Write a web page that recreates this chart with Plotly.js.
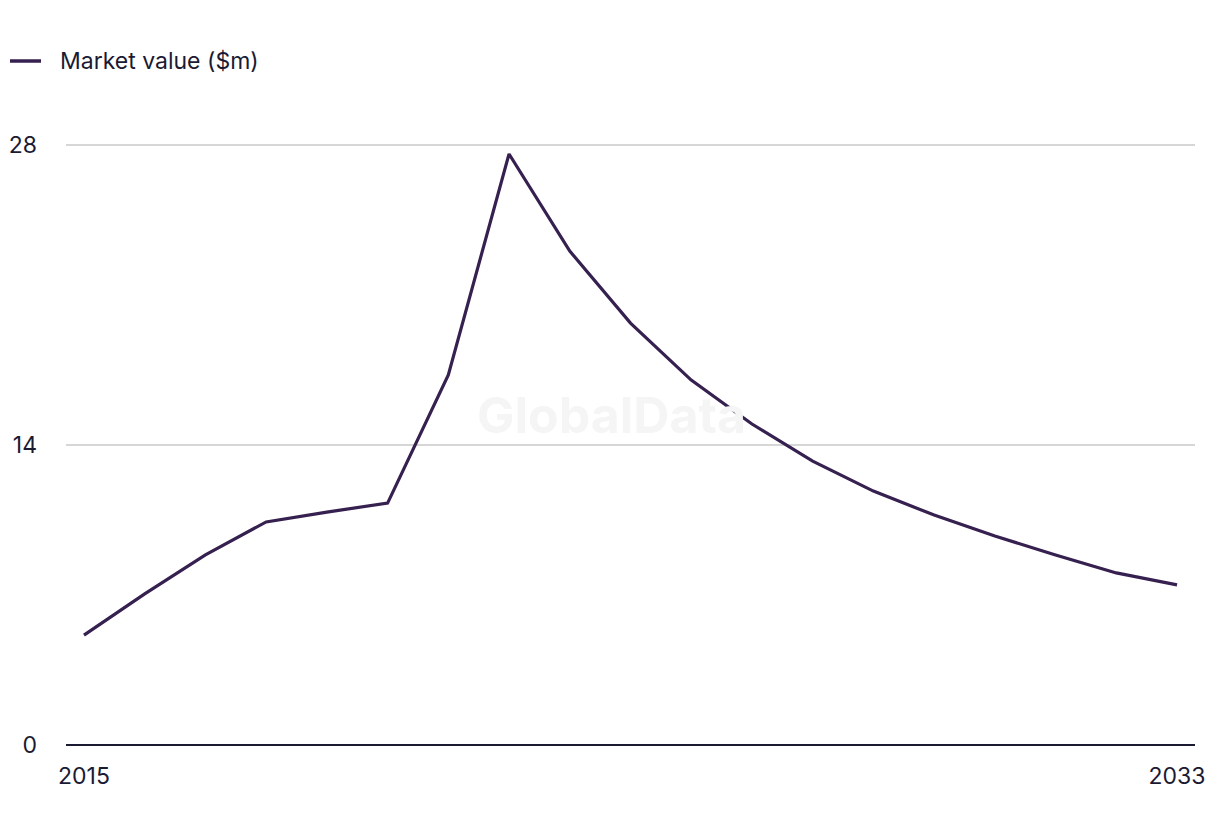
<!DOCTYPE html>
<html>
<head>
<meta charset="utf-8">
<script src="https://cdn.plot.ly/plotly-3.0.1.min.js"></script>
<style>html,body{margin:0;padding:0;background:#fff;}#chart{width:1220px;height:836px;}</style>
</head>
<body>
<div id="chart"></div>
<script>
const years = [2015,2016,2017,2018,2019,2020,2021,2022,2023,2024,2025,2026,2027,2028,2029,2030,2031,2032,2033];
const marketValue = [5.13,7.05,8.87,10.41,10.87,11.29,17.27,27.58,23.05,19.69,17.03,14.98,13.25,11.85,10.73,9.75,8.87,8.03,7.47];
const seriesName = "Market value ($m)";
const xTickVals = [2015, 2033];
const xTickText = ["2015", "2033"];
const yTickVals = [0, 14, 28];
const yTickText = ["0", "14", "28"];

const fontFam = "Inter, Roboto, 'Liberation Sans', sans-serif";
const textColor = "#1b1a33";
const lineColor = "#35204f";

const trace = {
  x: years, y: marketValue, name: seriesName,
  type: "scatter", mode: "lines",
  line: {color: lineColor, width: 3.2},
  hoverinfo: "x+y", showlegend: false
};

const layout = {
  width: 1220, height: 836,
  margin: {l: 66, r: 25, t: 139, b: 91},
  paper_bgcolor: "#ffffff", plot_bgcolor: "#ffffff",
  font: {family: fontFam, size: 23, color: textColor},
  showlegend: false,
  xaxis: {
    range: [2014.704, 2033.296], tickvals: xTickVals, ticktext: xTickText,
    showgrid: false, zeroline: false, showline: false, ticks: "", ticklabelstandoff: 15,
    tickfont: {family: fontFam, size: 23, color: textColor}, fixedrange: true
  },
  yaxis: {
    range: [0, 28.28], tickvals: yTickVals, ticktext: yTickText,
    showgrid: true, gridcolor: "#d6d6d6", gridwidth: 1.2,
    zeroline: true, zerolinecolor: "#1b1a33", zerolinewidth: 2,
    showline: false, ticks: "", ticklabelstandoff: 28,
    tickfont: {family: fontFam, size: 23, color: textColor}, fixedrange: true
  },
  shapes: [{
    type: "line", xref: "paper", yref: "paper",
    x0: -56/1129, x1: -25/1129, y0: 1 + (139-61)/606, y1: 1 + (139-61)/606,
    line: {color: lineColor, width: 3.5}
  }],
  annotations: [
    {
      text: seriesName, xref: "paper", yref: "paper", x: -8/1129, y: 1 + (139-61)/606,
      xanchor: "left", yanchor: "middle", showarrow: false,
      font: {family: fontFam, size: 23, color: textColor}
    },
    {
      text: "<b>GlobalData</b>", xref: "paper", yref: "paper", x: 0.483, y: 0.545,
      showarrow: false, font: {family: fontFam, size: 50, color: "#f5f5f5"}
    }
  ]
};

Plotly.newPlot("chart", [trace], layout, {displayModeBar: false, staticPlot: true});
</script>
</body>
</html>
